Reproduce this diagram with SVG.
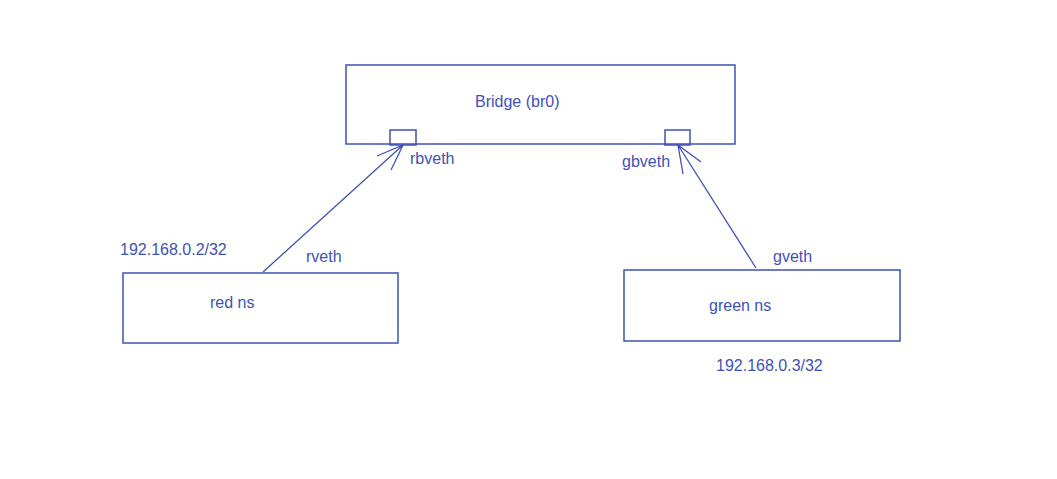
<svg xmlns="http://www.w3.org/2000/svg" width="1057" height="479" viewBox="0 0 1057 479">
<style>
.box{fill:none;stroke:#3f51b5;stroke-width:1.5}
.ln{fill:none;stroke:#3f51b5;stroke-width:1.3}
text{font-family:"Liberation Sans",Arial,sans-serif;font-size:16px;fill:#3f51b5}
</style>
<rect width="1057" height="479" fill="#fff"/>
<g id="bridge">
<rect class="box" x="346" y="65" width="389" height="79"/>
<text x="475" y="107">Bridge (br0)</text>
</g>
<g id="rbveth">
<rect class="box" x="390" y="130" width="26" height="15"/>
<text x="410" y="164">rbveth</text>
</g>
<g id="gbveth">
<rect class="box" x="665" y="130" width="25" height="15"/>
<text x="622" y="167">gbveth</text>
</g>
<g id="red-ns">
<rect class="box" x="123" y="273" width="275" height="70"/>
<text x="210" y="308">red ns</text>
<text x="120" y="255">192.168.0.2/32</text>
<text x="306" y="262">rveth</text>
</g>
<g id="green-ns">
<rect class="box" x="624" y="270" width="276" height="71"/>
<text x="709" y="311">green ns</text>
<text x="716" y="371">192.168.0.3/32</text>
<text x="773" y="262">gveth</text>
</g>
<g id="connectors">
<path class="ln" d="M263,272 L403,145 M377,156 L403,145 L391,170"/>
<path class="ln" d="M756,268 L678,145 M701,162 L678,145 L683,174"/>
</g>
</svg>
